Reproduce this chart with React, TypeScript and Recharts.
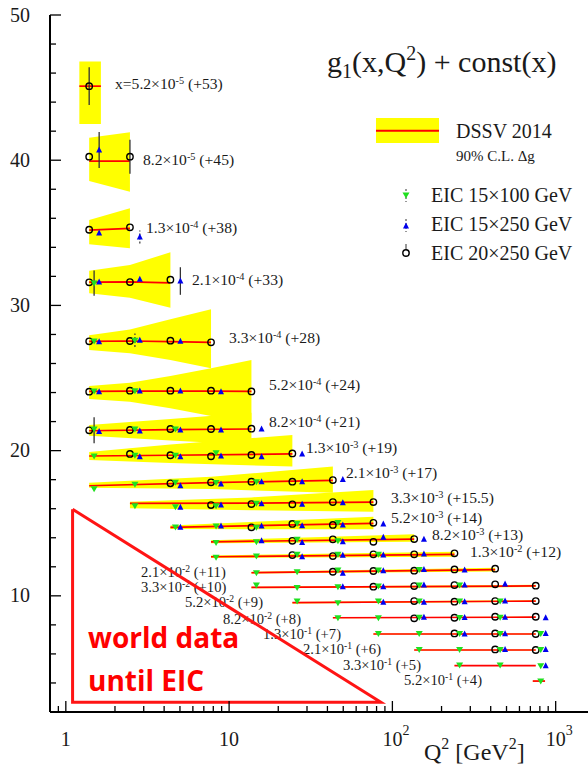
import React from 'react';
import { ComposedChart, XAxis, YAxis, Area, Line, Scatter, ErrorBar } from 'recharts';

const _ = null;

// Q^2 bin centres (GeV^2) of the three EIC configurations
const Q2_CIRCLE = [1.39, 2.47, 4.37, 7.75, 13.7, 24.4, 43.2, 76.5, 136, 240, 426, 755];
const Q2_GREEN = [1.49, 2.65, 4.69, 8.32, 14.7, 26.1, 46.4, 82.1, 146, 258, 457, 810];
const Q2_BLUE = [1.6, 2.84, 5.03, 8.92, 15.8, 28.0, 49.7, 88.0, 156, 277, 490, 869];

// x bins, with the constant added to each row
const X_MANT = ['x=5.2', '8.2', '1.3', '2.1', '3.3', '5.2', '8.2', '1.3', '2.1', '3.3', '5.2',
  '8.2', '1.3', '2.1', '3.3', '5.2', '8.2', '1.3', '2.1', '3.3', '5.2'];
const X_EXP = ['-5', '-5', '-4', '-4', '-4', '-4', '-4', '-3', '-3', '-3', '-3',
  '-3', '-2', '-2', '-2', '-2', '-2', '-1', '-1', '-1', '-1'];
const X_SHIFT = ['+53', '+45', '+38', '+33', '+28', '+24', '+21', '+19', '+17', '+15.5', '+14',
  '+13', '+12', '+11', '+10', '+9', '+8', '+7', '+6', '+5', '+4'];

// DSSV 2014 band per row: [Q2, low, central, high]
const DSSV: number[][][] = [
  [[1.21, 42.5, 45.1, 46.8], [1.64, 42.5, 45.1, 46.8]],
  [[1.39, 38.57, 39.94, 41.55], [2.47, 37.83, 39.94, 41.92]],
  [[1.39, 34.21, 35.19, 35.88], [2.47, 33.93, 35.3, 36.69]],
  [[1.39, 30.83, 31.6, 32.39], [2.47, 30.53, 31.62, 32.78], [4.37, 29.84, 31.55, 33.66]],
  [[1.39, 26.93, 27.53, 27.94], [2.47, 26.7, 27.55, 28.35], [4.37, 26.24, 27.5, 29.04], [7.75, 25.67, 27.45, 29.73]],
  [[1.39, 23.55, 24.08, 24.45], [2.47, 23.37, 24.1, 24.68], [4.37, 22.91, 24.1, 25.14], [7.75, 22.38, 24.1, 25.67], [13.7, 21.88, 24.08, 26.24]],
  [[1.39, 21.03, 21.37, 21.76], [4.37, 20.7, 21.45, 22.18], [13.7, 20.4, 21.49, 22.6]],
  [[1.39, 19.35, 19.63, 19.9], [4.37, 19.15, 19.68, 20.43], [24.4, 18.9, 19.77, 21.07]],
  [[1.39, 17.45, 17.58, 17.79], [7.75, 17.35, 17.8, 18.2], [43.2, 17.1, 17.95, 18.9]],
  [[2.47, 16.03, 16.37, 16.48], [13.7, 15.9, 16.38, 16.78], [76.5, 15.79, 16.46, 17.29]],
  [[4.37, 14.6, 14.72, 14.85], [76.5, 14.58, 14.99, 15.45]],
  [[7.75, 13.62, 13.72, 13.82], [136, 13.72, 13.91, 14.24]],
  [[7.75, 12.6, 12.69, 12.78], [240, 12.69, 12.86, 13.04]],
  [[13.7, 11.53, 11.59, 11.65], [426, 11.68, 11.8, 11.93]],
  [[13.7, 10.53, 10.58, 10.63], [755, 10.6, 10.68, 10.76]],
  [[24.4, 9.48, 9.53, 9.58], [755, 9.58, 9.64, 9.7]],
  [[43.2, 8.46, 8.49, 8.52], [755, 8.5, 8.53, 8.56]],
  [[76.5, 7.34, 7.37, 7.4], [755, 7.34, 7.37, 7.4]],
  [[136, 6.24, 6.27, 6.3], [755, 6.24, 6.27, 6.3]],
  [[240, 5.16, 5.19, 5.22], [755, 5.16, 5.19, 5.22]],
  [[724, 4.1, 4.13, 4.16], [861, 4.1, 4.13, 4.16]],
];

// EIC 20x250 GeV (open circles), one value per Q2 bin
const CIRCLE_Y: (number | null)[][] = [
  [45.1],
  [40.24, 40.24],
  [35.21, 35.38],
  [31.59, 31.61, 31.77],
  [27.53, 27.55, 27.57, 27.46],
  [24.06, 24.13, 24.13, 24.13, 24.08],
  [21.4, 21.42, 21.49, 21.49, 21.51],
  [_, 19.77, 19.68, 19.61, 19.7, 19.81],
  [_, _, 17.75, 17.82, 17.86, 17.86, 17.97],
  [_, _, _, 16.25, 16.32, 16.3, 16.46, 16.46],
  [_, _, _, _, 14.72, 14.95, 14.88, 15.03],
  [_, _, _, _, _, 13.79, 13.89, 13.72, 13.91],
  [_, _, _, _, _, 12.81, 12.74, 12.86, 12.86, 12.93],
  [_, _, _, _, _, _, 11.66, 11.71, 11.73, 11.82, 11.87],
  [_, _, _, _, _, _, _, 10.63, 10.67, 10.74, 10.79, 10.7],
  [_, _, _, _, _, _, _, _, 9.64, 9.6, 9.64, 9.64],
  [_, _, _, _, _, _, _, _, 8.45, 8.49, 8.56, 8.56],
  [_, _, _, _, _, _, _, _, _, 7.41, 7.41, 7.37],
  [_, _, _, _, _, _, _, _, _, _, 6.31, 6.27],
  [],
  [],
];

// EIC 15x100 GeV (green down triangles)
const GREEN_Y: (number | null)[][] = [
  [],
  [],
  [],
  [31.54],
  [27.55, 27.6],
  [24.1, 24.12],
  [21.49, 21.49, 21.49],
  [19.63, 19.68, 19.68, 19.85],
  [17.38, 17.68, 17.82, 17.8, 17.86],
  [_, 16.21, 16.14, 16.2, 16.37],
  [_, _, 14.74, 14.81, 14.72, 14.99, 15.05],
  [_, _, _, 13.68, 13.72, 13.89, 13.79],
  [_, _, _, 12.65, 12.74, 12.86, 12.86, 12.86],
  [_, _, _, _, 11.59, 11.66, 11.78, 11.78, 11.82],
  [_, _, _, _, 10.74, 10.58, 10.63, 10.67, 10.74, 10.74],
  [_, _, _, _, _, 9.64, 9.53, 9.64, 9.64, 9.64, 9.64],
  [_, _, _, _, _, _, 8.49, 8.49, 8.52, 8.5, 8.52],
  [_, _, _, _, _, _, _, 7.41, 7.41, 7.41, 7.41, 7.41],
  [_, _, _, _, _, _, _, _, 6.31, 6.31, 6.31, 6.31],
  [_, _, _, _, _, _, _, _, _, 5.23, 5.23, 5.19],
  [_, _, _, _, _, _, _, _, _, _, _, 4.13],
];

// EIC 15x250 GeV (blue up triangles)
const BLUE_Y: (number | null)[][] = [
  [],
  [40.7],
  [34.99, 34.71],
  [31.61, 31.8, 31.68],
  [27.5, 27.6, 27.53],
  [24.05, 24.1, 24.1, 24.05],
  [21.31, 21.35, 21.42, 21.42, 21.49],
  [_, 19.58, 19.58, 19.63, 19.58, 19.77],
  [_, _, 17.58, 17.7, 17.86, 17.86, 18.02],
  [_, _, 16.1, 16.25, 16.34, 16.3, 16.41],
  [_, _, 14.72, 14.81, 14.81, 14.83, 14.88, 14.95],
  [_, _, _, _, 13.79, 13.68, 13.72, 14.03, 13.89],
  [_, _, _, _, _, 12.69, 12.79, 12.81, 12.88],
  [_, _, _, _, _, _, 11.55, 11.73, 11.82, 11.78],
  [_, _, _, _, _, _, 10.63, 10.63, 10.74, 10.74, 10.81],
  [_, _, _, _, _, _, _, 9.55, 9.55, 9.6, 9.64],
  [_, _, _, _, _, _, _, _, 8.52, 8.5, 8.52, 8.49],
  [_, _, _, _, _, _, _, _, _, 7.37, 7.39, 7.41],
  [_, _, _, _, _, _, _, _, _, _, 6.31, 6.31],
  [_, _, _, _, _, _, _, _, _, _, _, 5.19],
  [],
];

// visible error bars: [Q2, y, half length]
const ERR_SOLID = [[1.39, 45.1, 1.3], [2.47, 40.24, 1.17], [1.6, 40.7, 1.24], [1.49, 31.54, 0.87], [5.03, 31.68, 0.95], [1.49, 21.4, 0.9]];
const ERR_DASHED = [[2.84, 34.71, 0.45], [2.65, 27.6, 0.47]];

// "world data until EIC" triangle
const WORLD_Q = [1.1, 1.1, 85, 1.1];
const WORLD_Y = [15.96, 2.67, 2.67, 15.96];

const X_TICKS = [0.9, 1, 2, 3, 4, 5, 6, 7, 8, 9, 10, 20, 30, 40, 50, 60, 70, 80, 90,
  100, 200, 300, 400, 500, 600, 700, 800, 900, 1000];
const X_TICK_LABELS: Record<number, [string, string]> = { 1: ['1', ''], 10: ['10', ''], 100: ['10', '2'], 1000: ['10', '3'] };
const Y_TICKS = [4, 6, 8, 10, 12, 14, 16, 18, 20, 22, 24, 26, 28, 30, 32, 34, 36, 38, 40, 42, 44, 46, 48, 50];

// row label placement (px): [left, baseline]
const LABEL_POS = [[115, 89], [143, 165], [146, 233], [192, 285], [229, 343], [269, 390], [269, 427],
  [306, 453], [346, 478], [391, 503], [391, 523], [432, 540], [470, 557], [141, 577], [141, 592],
  [185, 607], [223, 624], [263, 639], [303, 654], [343, 670], [404, 685]];

const SERIF = '"Liberation Serif", "Times New Roman", serif';
const YELLOW = '#ffff00';
const RED = '#ff0000';
const GREEN = '#1fe01f';
const BLUE = '#0000ee';
const INK = '#1a1a1a';

const toPoints = (rows: (number | null)[][], grid: number[]) =>
  rows.flatMap((r) => r.flatMap((y, k) => (y == null ? [] : [{ q: grid[k], y }])));

const circlePts = toPoints(CIRCLE_Y, Q2_CIRCLE);
const greenPts = toPoints(GREEN_Y, Q2_GREEN);
const bluePts = toPoints(BLUE_Y, Q2_BLUE);
const errSolid = ERR_SOLID.map(([q, y, e]) => ({ q, y, e }));
const errDashed = ERR_DASHED.map(([q, y, e]) => ({ q, y, e }));
const world = WORLD_Q.map((q, i) => ({ q, y: WORLD_Y[i] }));

const OpenCircle = (p: any) => <circle cx={p.cx} cy={p.cy} r={3.2} fill="none" stroke="#000" strokeWidth={1.4} />;
const DownTri = (p: any) => (
  <path d={`M${p.cx - 3.5},${p.cy - 2.5}L${p.cx + 3.5},${p.cy - 2.5}L${p.cx},${p.cy + 3.5}Z`} fill={GREEN} />
);
const UpTri = (p: any) => (
  <path d={`M${p.cx - 3},${p.cy + 2.5}L${p.cx + 3},${p.cy + 2.5}L${p.cx},${p.cy - 3.5}Z`} fill={BLUE} />
);
const NoShape = () => <g />;

const BottomTick = (p: any) => {
  const { x, y, payload } = p;
  const lab = X_TICK_LABELS[payload.value];
  return (
    <g>
      <line x1={x} x2={x} y1={y} y2={y - (lab ? 11 : 6)} stroke="#000" strokeWidth={1.3} />
      {lab && (
        <text x={x} y={y + 34} textAnchor="middle" fontSize={20} fontFamily={SERIF} fill={INK}>{lab[0]}</text>
      )}
      {lab && lab[1] && (
        <text x={x + 10} y={y + 23} fontSize={14} fontFamily={SERIF} fill={INK}>{lab[1]}</text>
      )}
    </g>
  );
};

const TopTick = (p: any) => {
  const { x, y, payload } = p;
  const major = !!X_TICK_LABELS[payload.value];
  return <line x1={x} x2={x} y1={y} y2={y + (major ? 11 : 6)} stroke="#000" strokeWidth={1.3} />;
};

const LeftTick = (p: any) => {
  const { x, y, payload } = p;
  const major = payload.value % 10 === 0;
  return (
    <g>
      <line x1={x} x2={x + (major ? 11 : 6)} y1={y} y2={y} stroke="#000" strokeWidth={1.3} />
      {major && (
        <text x={x - 20} y={y + 6.5} textAnchor="end" fontSize={20} fontFamily={SERIF} fill={INK}>{payload.value}</text>
      )}
    </g>
  );
};

const RightTick = (p: any) => {
  const { x, y, payload } = p;
  const major = payload.value % 10 === 0;
  return <line x1={x} x2={x - (major ? 11 : 6)} y1={y} y2={y} stroke="#000" strokeWidth={1.3} />;
};

const Texts = () => (
  <svg width={588} height={766} style={{ position: 'absolute', left: 0, top: 0 }} fontFamily={SERIF} fill={INK}>
    <text x={327} y={72} fontSize={30}>
      g<tspan fontSize={20} dy={6}>1</tspan>
      <tspan fontSize={30} dy={-6}>(x,Q</tspan>
      <tspan fontSize={20} dy={-12}>2</tspan>
      <tspan fontSize={30} dy={12}>) + const(x)</tspan>
    </text>

    <rect x={376} y={118} width={63} height={25} fill={YELLOW} />
    <line x1={376} x2={439} y1={130.7} y2={130.7} stroke={RED} strokeWidth={2} />
    <text x={456} y={138} fontSize={20}>DSSV 2014</text>
    <text x={456} y={161} fontSize={15}>90% C.L. Δg</text>

    <line x1={406} x2={406} y1={189} y2={202} stroke="#333" strokeWidth={1} strokeDasharray="2 2" />
    <DownTri cx={406} cy={195} />
    <text x={431} y={202} fontSize={20}>EIC 15×100 GeV</text>
    <line x1={406} x2={406} y1={219} y2={232} stroke="#333" strokeWidth={1} strokeDasharray="2 2" />
    <UpTri cx={406} cy={226} />
    <text x={431} y={231} fontSize={20}>EIC 15×250 GeV</text>
    <line x1={406} x2={406} y1={244} y2={250} stroke="#333" strokeWidth={1} />
    <OpenCircle cx={406} cy={253} />
    <text x={431} y={260} fontSize={20}>EIC 20×250 GeV</text>

    {X_MANT.map((m, i) => {
      // the lower rows are set a little smaller in the original
      const fs = i >= 13 ? 14.6 : 15.6;
      return (
        <text key={i} x={LABEL_POS[i][0]} y={LABEL_POS[i][1]} fontSize={fs} xmlSpace="preserve">
          {m}×10<tspan fontSize={fs * 0.66} dy={-fs * 0.34}>{X_EXP[i]}</tspan>
          <tspan fontSize={fs} dy={fs * 0.34}>{` (${X_SHIFT[i]})`}</tspan>
        </text>
      );
    })}

    <text x={88} y={648} fontSize={28} fontWeight={700} fontFamily='"Open Sans", sans-serif' fill={RED}>world data</text>
    <text x={88} y={691} fontSize={28} fontWeight={700} fontFamily='"Open Sans", sans-serif' fill={RED}>until EIC</text>

    <text x={424} y={760} fontSize={24}>
      Q<tspan fontSize={16} dy={-11}>2</tspan>
      <tspan fontSize={24} dy={11}> [GeV</tspan>
      <tspan fontSize={16} dy={-11}>2</tspan>
      <tspan fontSize={24} dy={11}>]</tspan>
    </text>
  </svg>
);

export default function App() {
  return (
    <div style={{ position: 'absolute', left: 0, top: 0, width: 588, height: 766, overflow: 'hidden', background: '#fff' }}>
      <Texts />
      <div style={{ position: 'absolute', left: 0, top: 0 }}>
        <ComposedChart width={589} height={766} margin={{ top: 15, right: 0, bottom: 0, left: 0 }}>
          <XAxis xAxisId="b" dataKey="q" type="number" scale="log" domain={[0.8, 1600]} allowDataOverflow
            ticks={X_TICKS} interval={0} height={54} tickSize={0} tickMargin={0} tickLine={false}
            axisLine={{ stroke: '#000', strokeWidth: 2 }} tick={BottomTick} />
          <XAxis xAxisId="t" orientation="top" dataKey="q" type="number" scale="log" domain={[0.8, 1600]} allowDataOverflow
            ticks={X_TICKS} interval={0} height={0} tickSize={0} tickMargin={0} tickLine={false}
            axisLine={{ stroke: '#000', strokeWidth: 2 }} tick={TopTick} />
          <YAxis yAxisId="l" dataKey="y" type="number" domain={[2, 50]} allowDataOverflow
            ticks={Y_TICKS} interval={0} width={50} tickSize={0} tickMargin={0} tickLine={false}
            axisLine={{ stroke: '#000', strokeWidth: 2 }} tick={LeftTick} />
          <YAxis yAxisId="r" orientation="right" dataKey="y" type="number" domain={[2, 50]} allowDataOverflow
            ticks={Y_TICKS} interval={0} width={0} tickSize={0} tickMargin={0} tickLine={false}
            axisLine={{ stroke: '#000', strokeWidth: 2 }} tick={RightTick} />

          {DSSV.map((band, i) => (
            <Area key={'band' + i} xAxisId="b" yAxisId="l" type="linear"
              data={band.map(([q, lo, , hi]) => ({ q, r: [lo, hi] }))} dataKey="r"
              fill={YELLOW} fillOpacity={1} stroke="none" dot={false} activeDot={false} isAnimationActive={false} />
          ))}
          {DSSV.map((band, i) => (
            <Line key={'mid' + i} xAxisId="b" yAxisId="l" type="linear"
              data={band.map(([q, , c]) => ({ q, y: c }))} dataKey="y"
              stroke={RED} strokeWidth={1.7} dot={false} activeDot={false} isAnimationActive={false} />
          ))}

          <Line xAxisId="b" yAxisId="l" type="linear" data={world} dataKey="y" stroke="#ff1414" strokeWidth={3}
            dot={false} activeDot={false} isAnimationActive={false} />

          <Scatter xAxisId="b" yAxisId="l" data={errSolid} dataKey="y" shape={NoShape} isAnimationActive={false}>
            <ErrorBar dataKey="e" direction="y" width={0} stroke="#333" strokeWidth={1.3} />
          </Scatter>
          <Scatter xAxisId="b" yAxisId="l" data={errDashed} dataKey="y" shape={NoShape} isAnimationActive={false}>
            <ErrorBar dataKey="e" direction="y" width={0} stroke="#333" strokeWidth={1.2} strokeDasharray="2 2" />
          </Scatter>

          <Scatter xAxisId="b" yAxisId="l" data={circlePts} dataKey="y" shape={OpenCircle} isAnimationActive={false} />
          <Scatter xAxisId="b" yAxisId="l" data={greenPts} dataKey="y" shape={DownTri} isAnimationActive={false} />
          <Scatter xAxisId="b" yAxisId="l" data={bluePts} dataKey="y" shape={UpTri} isAnimationActive={false} />
        </ComposedChart>
      </div>
    </div>
  );
}
